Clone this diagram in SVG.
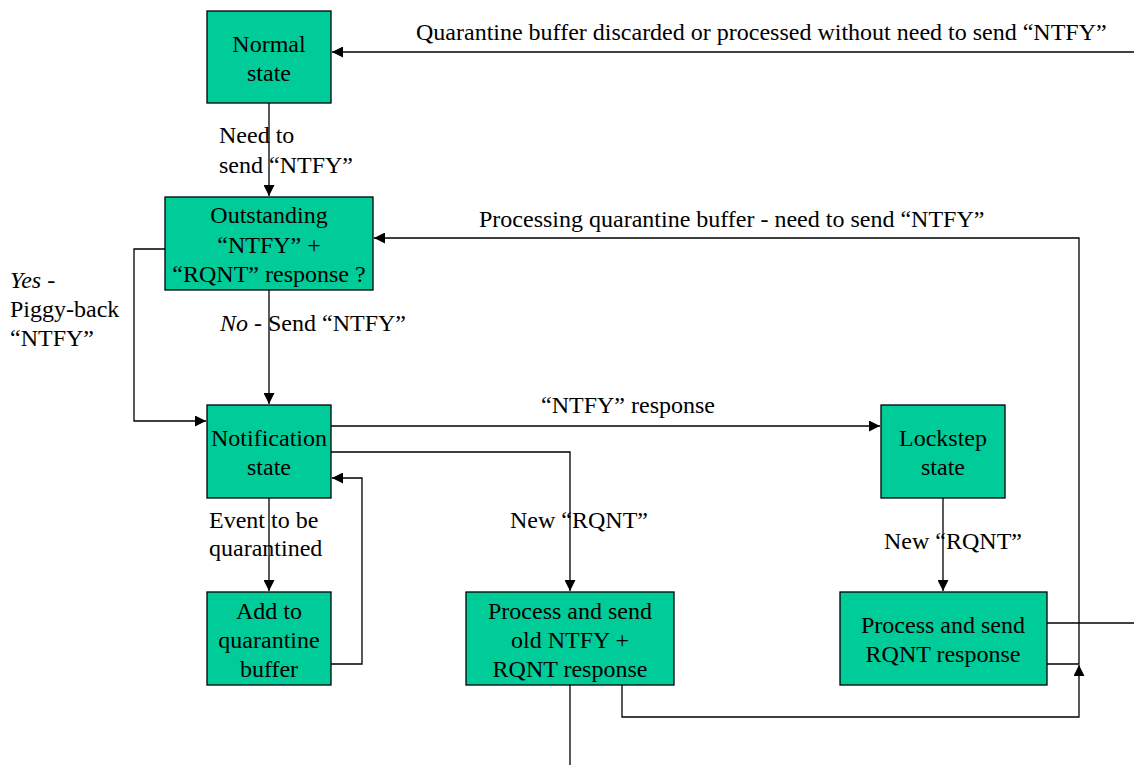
<svg xmlns="http://www.w3.org/2000/svg" width="1134" height="765" viewBox="0 0 1134 765">
<style>
.n{fill:#00CC99;stroke:#000;stroke-width:1.3}
.t{font-family:"Liberation Serif","Times New Roman",Times,serif;font-size:24px;fill:#000}
.c{text-anchor:middle}
.e{fill:none;stroke:#000;stroke-width:1.3}
</style>
<defs>
<marker id="a" viewBox="0 0 10 10" refX="10" refY="5" markerWidth="11" markerHeight="11" markerUnits="userSpaceOnUse" orient="auto">
<path d="M0,0 L10,5 L0,10 z" fill="#000"/>
</marker>
</defs>
<rect width="1134" height="765" fill="#fff"/>
<g id="connectors">
<path class="e" d="M1134,52 H332" marker-end="url(#a)"/>
<path class="e" d="M269,103 V196" marker-end="url(#a)"/>
<path class="e" d="M269,290 V404" marker-end="url(#a)"/>
<path class="e" d="M165,249 H134 V421 H206" marker-end="url(#a)"/>
<path class="e" d="M331,426 H880" marker-end="url(#a)"/>
<path class="e" d="M331,452 H570 V591" marker-end="url(#a)"/>
<path class="e" d="M269,498 V591" marker-end="url(#a)"/>
<path class="e" d="M331,664 H362 V478 H332" marker-end="url(#a)"/>
<path class="e" d="M943,498 V591" marker-end="url(#a)"/>
<path class="e" d="M1047,623 H1134"/>
<path class="e" d="M1047,664 H1079 V238 H374" marker-end="url(#a)"/>
<path class="e" d="M622,685 V717 H1079 V665" marker-end="url(#a)"/>
<path class="e" d="M570,685 V765"/>
<text class="t" x="416" y="40">Quarantine buffer discarded or processed without need to send “NTFY”</text>
<text class="t" x="479" y="227">Processing quarantine buffer - need to send “NTFY”</text>
<text class="t" x="219" y="143">Need to</text>
<text class="t" x="219" y="173">send “NTFY”</text>
<text class="t" x="220" y="331"><tspan font-style="italic">No</tspan> - Send “NTFY”</text>
<text class="t" x="10" y="288"><tspan font-style="italic">Yes</tspan> -</text>
<text class="t" x="10" y="317">Piggy-back</text>
<text class="t" x="10" y="346">“NTFY”</text>
<text class="t c" x="628" y="413">“NTFY” response</text>
<text class="t" x="510" y="528">New “RQNT”</text>
<text class="t" x="209" y="528">Event to be</text>
<text class="t" x="209" y="556">quarantined</text>
<text class="t" x="884" y="549">New “RQNT”</text>
</g>
<g id="normal"><rect class="n" x="207" y="11" width="124" height="92"/>
<text class="t c" x="269" y="52">Normal</text><text class="t c" x="269" y="81">state</text></g>
<g id="outstanding"><rect class="n" x="165" y="197" width="208" height="93"/>
<text class="t c" x="269" y="223">Outstanding</text><text class="t c" x="269" y="253">“NTFY” +</text><text class="t c" x="269" y="282">“RQNT” response ?</text></g>
<g id="notification"><rect class="n" x="207" y="405" width="124" height="93"/>
<text class="t c" x="269" y="446">Notification</text><text class="t c" x="269" y="475">state</text></g>
<g id="addq"><rect class="n" x="207" y="592" width="124" height="93"/>
<text class="t c" x="269" y="619">Add to</text><text class="t c" x="269" y="648">quarantine</text><text class="t c" x="269" y="677">buffer</text></g>
<g id="lockstep"><rect class="n" x="881" y="405" width="124" height="93"/>
<text class="t c" x="943" y="446">Lockstep</text><text class="t c" x="943" y="475">state</text></g>
<g id="procold"><rect class="n" x="466" y="592" width="208" height="93"/>
<text class="t c" x="570" y="619">Process and send</text><text class="t c" x="570" y="648">old NTFY +</text><text class="t c" x="570" y="677">RQNT response</text></g>
<g id="procrqnt"><rect class="n" x="840" y="592" width="207" height="93"/>
<text class="t c" x="943" y="633">Process and send</text><text class="t c" x="943" y="662">RQNT response</text></g>
</svg>
